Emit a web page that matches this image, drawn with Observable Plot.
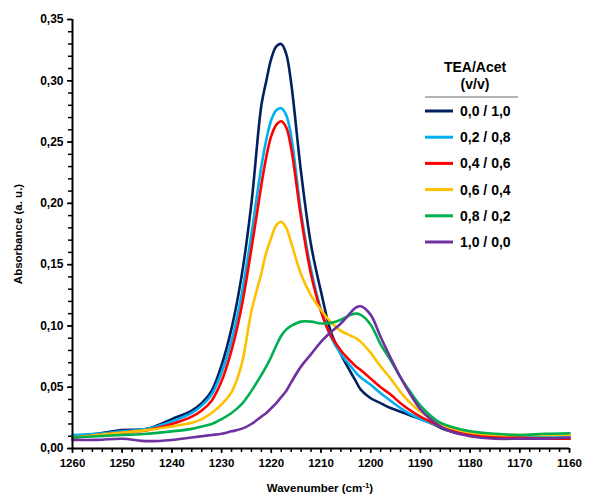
<!DOCTYPE html>
<html>
<head>
<meta charset="utf-8">
<script src="https://cdn.jsdelivr.net/npm/d3@7"></script>
<script src="https://cdn.jsdelivr.net/npm/@observablehq/plot@0.6"></script>
<style>
  html, body { margin: 0; padding: 0; background: #fff; }
  #chart { width: 595px; height: 498px; }
</style>
</head>
<body>
<div id="chart"></div>
<script>
const wavenumber = [1260,1255,1250,1245,1240,1236,1234,1232,1230,1228,1226,1224,1222,1221,1220,1219,1218,1217,1216,1214,1212,1210,1208,1206,1204,1203,1202,1200,1198,1196,1194,1192,1190,1188,1186,1184,1180,1175,1170,1165,1160];

const s00_10 = [0.010,0.012,0.015,0.016,0.024,0.031,0.037,0.047,0.068,0.098,0.140,0.200,0.280,0.300,0.318,0.328,0.330,0.322,0.298,0.225,0.166,0.128,0.095,0.077,0.062,0.055,0.048,0.041,0.037,0.033,0.030,0.027,0.024,0.021,0.017,0.014,0.011,0.009,0.009,0.009,0.008];
const s02_08 = [0.011,0.012,0.014,0.016,0.022,0.029,0.035,0.044,0.062,0.088,0.125,0.175,0.230,0.252,0.268,0.276,0.2775,0.272,0.255,0.192,0.146,0.113,0.091,0.077,0.067,0.062,0.058,0.052,0.045,0.039,0.033,0.028,0.024,0.021,0.018,0.015,0.012,0.011,0.010,0.010,0.010];
const s04_06 = [0.009,0.011,0.013,0.015,0.020,0.026,0.031,0.039,0.055,0.080,0.115,0.163,0.215,0.238,0.255,0.264,0.267,0.262,0.245,0.188,0.142,0.112,0.092,0.080,0.071,0.067,0.064,0.057,0.050,0.044,0.037,0.031,0.026,0.022,0.018,0.015,0.011,0.010,0.009,0.008,0.008];
const s06_04 = [0.009,0.011,0.013,0.015,0.018,0.021,0.024,0.029,0.036,0.046,0.068,0.112,0.143,0.160,0.172,0.182,0.185,0.180,0.168,0.142,0.125,0.113,0.103,0.096,0.092,0.090,0.087,0.078,0.067,0.057,0.046,0.037,0.030,0.025,0.020,0.017,0.013,0.011,0.011,0.011,0.011];
const s08_02 = [0.009,0.010,0.011,0.012,0.014,0.016,0.018,0.020,0.024,0.029,0.036,0.047,0.060,0.067,0.075,0.084,0.092,0.097,0.100,0.1035,0.1035,0.102,0.1025,0.105,0.109,0.110,0.109,0.101,0.085,0.072,0.058,0.046,0.035,0.027,0.021,0.018,0.014,0.012,0.011,0.012,0.0125];
const s10_00 = [0.007,0.007,0.008,0.006,0.007,0.009,0.010,0.011,0.012,0.014,0.016,0.020,0.026,0.029,0.033,0.037,0.042,0.047,0.054,0.067,0.077,0.087,0.095,0.102,0.111,0.115,0.116,0.109,0.091,0.074,0.058,0.044,0.032,0.024,0.018,0.014,0.010,0.008,0.008,0.008,0.009];

const seriesNames = ["0,0 / 1,0","0,2 / 0,8","0,4 / 0,6","0,6 / 0,4","0,8 / 0,2","1,0 / 0,0"];
const seriesColors = ["#002060","#00B0F0","#FF0000","#FFC000","#00B050","#7030A0"];
const seriesValues = [s00_10, s02_08, s04_06, s06_04, s08_02, s10_00];

const xMajor = [1260,1250,1240,1230,1220,1210,1200,1190,1180,1170,1160];
const yMajor = [0,0.05,0.10,0.15,0.20,0.25,0.30,0.35];

const rows = [];
seriesNames.forEach((name, i) => {
  wavenumber.forEach((w, j) => rows.push({series: name, wn: w, a: seriesValues[i][j]}));
});

const xMinor = d3.range(1260, 1159, -2);
const yMinor = d3.range(0, 0.3501, 0.01);
const fmtY = d => d3.format(".2f")(d).replace(".", ",");

const font = "'Liberation Sans', Arial, sans-serif";

const chart = Plot.plot({
  width: 595,
  height: 498,
  marginLeft: 72,
  marginRight: 26,
  marginTop: 19,
  marginBottom: 50,
  style: {fontFamily: font, fontSize: "12px", fontWeight: "bold", color: "#000", background: "#fff"},
  x: {domain: [1260, 1160], label: null},
  y: {domain: [0, 0.35], label: null},
  color: {domain: seriesNames, range: seriesColors},
  marks: [
    Plot.axisX({ticks: xMinor, tickSize: 4, tickFormat: () => "", strokeWidth: 1.5}),
    Plot.axisX({ticks: xMajor, tickSize: 5, tickPadding: 5, tickFormat: d => String(d), strokeWidth: 1.5, fontSize: 11.5}),
    Plot.axisY({ticks: yMinor, tickSize: 4, tickFormat: () => "", strokeWidth: 1.5}),
    Plot.axisY({ticks: yMajor, tickSize: 5, tickPadding: 4, tickFormat: fmtY, strokeWidth: 1.5, fontSize: 12}),
    Plot.line(rows, {x: "wn", y: "a", z: "series", stroke: "series", strokeWidth: 2.6, curve: "catmull-rom"}),
    Plot.ruleY([0], {stroke: "#000", strokeWidth: 2}),
    Plot.ruleX([1260], {stroke: "#000", strokeWidth: 2})
  ]
});

document.getElementById("chart").appendChild(chart);

const svg = d3.select(chart);
// Axis titles
const xt = svg.append("text")
  .attr("x", 320).attr("y", 492)
  .attr("text-anchor", "middle")
  .attr("font-family", font).attr("font-size", 11.5).attr("font-weight", "bold").attr("fill", "#000");
xt.append("tspan").text("Wavenumber (cm");
xt.append("tspan").attr("font-size", 8).attr("dy", -4).text("-1");
xt.append("tspan").attr("dy", 4).text(")");

svg.append("text")
  .attr("transform", "translate(22,234) rotate(-90)")
  .attr("text-anchor", "middle")
  .attr("font-family", font).attr("font-size", 11.5).attr("font-weight", "bold").attr("fill", "#000")
  .text("Absorbance (a. u.)");

// Legend
const lg = svg.append("g").attr("font-family", font).attr("font-weight", "bold").attr("fill", "#000");
lg.append("text").attr("x", 475).attr("y", 72).attr("text-anchor", "middle").attr("font-size", 14).text("TEA/Acet");
lg.append("text").attr("x", 475).attr("y", 89).attr("text-anchor", "middle").attr("font-size", 14).text("(v/v)");
lg.append("line").attr("x1", 425).attr("x2", 518).attr("y1", 97).attr("y2", 97).attr("stroke", "#999").attr("stroke-width", 1.5);
seriesNames.forEach((name, i) => {
  const y = 111 + i * 26.2;
  lg.append("line").attr("x1", 425).attr("x2", 453).attr("y1", y).attr("y2", y)
    .attr("stroke", seriesColors[i]).attr("stroke-width", 3);
  lg.append("text").attr("x", 460).attr("y", y + 5).attr("text-anchor", "start").attr("font-size", 14).text(name);
});
</script>
</body>
</html>
